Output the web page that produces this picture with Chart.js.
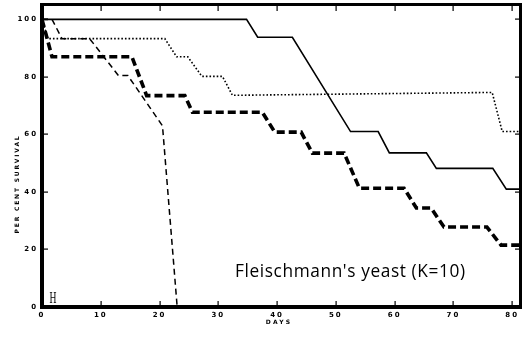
<!DOCTYPE html>
<html>
<head>
<meta charset="utf-8">
<script src="https://cdn.jsdelivr.net/npm/chart.js@4"></script>
<style>
  html, body { margin: 0; padding: 0; background: #fff; }
  #wrap { width: 523px; height: 338px; }
</style>
</head>
<body>
<div id="wrap"><canvas id="survival"></canvas></div>
<script>
// survival curves, per cent alive against days
const solidDays  = [0, 34.8, 36.7, 42.6, 52.5, 57.2, 59.1, 65.4, 67.1, 76.7, 79, 81.5];
const solidPct   = [100, 100, 93.8, 93.8, 61, 61, 53.6, 53.6, 48.2, 48.2, 41, 41];

const dottedDays = [0, 1, 20.9, 22.9, 24.8, 27.2, 30.7, 32.4, 76.6, 78.3, 81.5];
const dottedPct  = [100, 93.3, 93.3, 87, 87, 80.2, 80.2, 73.6, 74.6, 61, 61];

const heavyDays  = [0, 1.7, 15.3, 17.8, 24.3, 25.6, 37.5, 39.6, 44.1, 46, 51.4, 54, 61.6, 63.7, 66.2, 68.4, 75.7, 78.1, 81.5];
const heavyPct   = [100, 87, 87, 73.5, 73.5, 67.7, 67.7, 60.8, 60.8, 53.5, 53.5, 41.3, 41.3, 34.4, 34.4, 27.8, 27.8, 21.5, 21.5];

const lightDays  = [0, 1.7, 3.4, 8.1, 13, 14.6, 20.5, 23];
const lightPct   = [100, 100, 93.3, 93.3, 80.5, 80.5, 63, 0];

const dayTicks = [0, 10, 20, 30, 40, 50, 60, 70, 80];
const pctTicks = [0, 20, 40, 60, 80, 100];

const note = "Fleischmann's yeast (K=10)";

function pts(xs, ys) {
  return xs.map((x, i) => ({ x: x, y: ys[i] }));
}

// frame, inward ticks, titles and the note
const paperPlugin = {
  id: 'paper',
  beforeDraw(chart) {
    chart.ctx.letterSpacing = '2px';
  },
  afterDatasetsDraw(chart) {
    const g = chart.ctx;
    const a = chart.chartArea;
    const xs = chart.scales.x, ys = chart.scales.y;
    const L = Math.round(a.left), R = Math.round(a.right);
    const T = Math.round(a.top), B = Math.round(a.bottom);
    g.save();
    g.fillStyle = '#000';

    // ticks pointing into the plot
    dayTicks.forEach(d => {
      const px = Math.round(xs.getPixelForValue(d));
      g.fillRect(px - 0.5, B - 6, 1.2, 6);
      g.fillRect(px - 0.5, T, 1.2, 6);
    });
    pctTicks.forEach(p => {
      const py = Math.round(ys.getPixelForValue(p));
      g.fillRect(L, py - 0.5, 6, 1.2);
      g.fillRect(R - 6, py - 0.5, 6, 1.2);
    });

    // heavy frame
    g.fillRect(L - 2, T - 1, 4, B - T + 3);
    g.fillRect(L - 2, B - 2, R - L + 3, 4);
    g.fillRect(L - 2, T - 2, R - L + 3, 3);
    g.fillRect(R - 2, T - 2, 3, B - T + 3);
    g.restore();
  },
  afterDraw(chart) {
    const g = chart.ctx;
    g.save();
    g.fillStyle = '#000';
    // axis titles
    g.font = 'bold 6px "DejaVu Sans"';
    g.letterSpacing = '2.2px';
    g.textAlign = 'center';
    g.textBaseline = 'middle';
    g.fillText('DAYS', 279, 322);
    g.letterSpacing = '1.8px';
    g.save();
    g.translate(17, 184);
    g.rotate(-Math.PI / 2);
    g.fillText('PER CENT SURVIVAL', 0, 0);
    g.restore();

    // note, sized to run from 235 to 467
    g.letterSpacing = '0.6px';
    g.font = '16px "Open Sans"';
    const size = 16 * 232 / g.measureText(note).width;
    g.font = size.toFixed(2) + 'px "Open Sans"';
    g.textAlign = 'left';
    g.textBaseline = 'alphabetic';
    g.fillText(note, 235, 277);

    // small H mark by the origin
    g.letterSpacing = '0px';
    g.save();
    g.translate(49.5, 303);
    g.scale(0.6, 1);
    g.font = '16px "Liberation Serif"';
    g.fillText('H', 0, 0);
    g.restore();

    g.restore();
  }
};

const ctx = document.getElementById('survival');
new Chart(ctx, {
  type: 'line',
  data: {
    datasets: [
      {
        label: 'solid',
        data: pts(solidDays, solidPct),
        borderColor: '#000',
        borderWidth: 1.6
      },
      {
        label: 'dotted',
        data: pts(dottedDays, dottedPct),
        borderColor: '#000',
        borderWidth: 1.6,
        borderDash: [1.6, 2]
      },
      {
        label: 'heavy dashed',
        data: pts(heavyDays, heavyPct),
        borderColor: '#000',
        borderWidth: 3.6,
        borderDash: [8, 4]
      },
      {
        label: 'light dashed',
        data: pts(lightDays, lightPct),
        borderColor: '#000',
        borderWidth: 1.5,
        borderDash: [6, 4]
      }
    ]
  },
  options: {
    responsive: true,
    maintainAspectRatio: false,
    animation: false,
    layout: { padding: { left: 0, right: 2, top: 5, bottom: 0 } },
    elements: { point: { radius: 0 }, line: { tension: 0 } },
    plugins: { legend: { display: false }, tooltip: { enabled: false } },
    scales: {
      x: {
        type: 'linear',
        min: 0,
        max: 81.5,
        afterBuildTicks: s => { s.ticks = dayTicks.map(v => ({ value: v })); },
        afterFit: s => { s.height = 31; s.paddingLeft = 0; s.paddingRight = 0; },
        grid: { display: false, drawTicks: false },
        border: { display: false },
        ticks: {
          padding: 4,
          color: '#000',
          font: { family: 'DejaVu Sans', size: 7, weight: 'bold' }
        }
      },
      y: {
        min: 0,
        max: 105,
        afterBuildTicks: s => { s.ticks = pctTicks.map(v => ({ value: v })); },
        afterFit: s => { s.width = 42; s.paddingTop = 0; s.paddingBottom = 0; },
        grid: { display: false, drawTicks: false },
        border: { display: false },
        ticks: {
          padding: 4,
          color: '#000',
          font: { family: 'DejaVu Sans', size: 7, weight: 'bold' }
        }
      }
    }
  },
  plugins: [paperPlugin]
});
</script>
</body>
</html>
